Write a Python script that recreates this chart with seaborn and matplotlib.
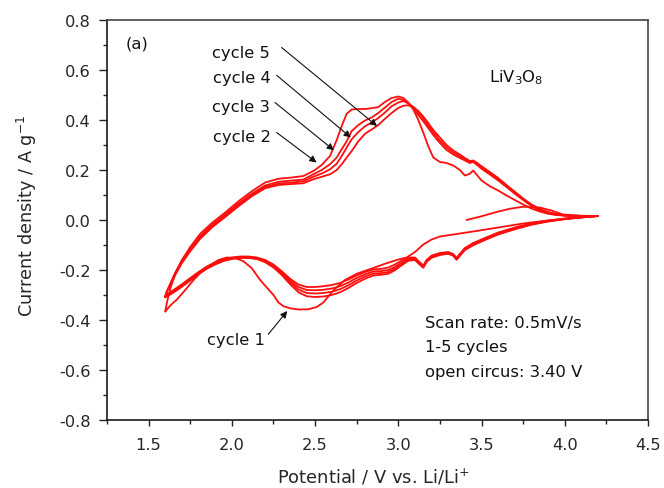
import matplotlib
matplotlib.use("Agg")
import matplotlib.pyplot as plt
import numpy as np
import pandas as pd
import seaborn as sns
from matplotlib.ticker import MultipleLocator, FuncFormatter

# ---- cyclic voltammetry data (potential in V vs Li/Li+, current density in A/g) ----
# first half-sweep: open circuit (3.40 V) up to 4.2 V
init_V = [3.41, 3.50, 3.59, 3.67, 3.75, 3.85, 3.92, 3.99, 4.10, 4.20]
init_I = [0.000, 0.015, 0.032, 0.045, 0.053, 0.050, 0.038, 0.022, 0.017, 0.016]

# cycle 1 cathodic sweep, 4.2 V -> 1.6 V
c1_V = [4.20, 4.05, 3.90, 3.75, 3.60, 3.45, 3.33, 3.25, 3.20, 3.15, 3.10, 3.05,
        3.00, 2.92, 2.85, 2.75, 2.68, 2.62, 2.58, 2.55, 2.51, 2.46, 2.40, 2.35,
        2.31, 2.28, 2.25, 2.21, 2.17, 2.12, 2.07, 2.02, 1.97, 1.92, 1.87, 1.82,
        1.77, 1.72, 1.67, 1.63, 1.60]
c1_I = [0.016, 0.008, -0.002, -0.014, -0.030, -0.046, -0.058, -0.066, -0.078,
        -0.098, -0.128, -0.150, -0.158, -0.175, -0.192, -0.215, -0.240, -0.275,
        -0.305, -0.330, -0.348, -0.357, -0.358, -0.353, -0.345, -0.330, -0.300,
        -0.270, -0.240, -0.193, -0.165, -0.152, -0.150, -0.160, -0.180, -0.205,
        -0.240, -0.280, -0.318, -0.342, -0.366]

# anodic sweeps (1.6 V -> 4.2 V), cycles 2-5
anod_V = [1.60, 1.61, 1.63, 1.66, 1.70, 1.75, 1.81, 1.88, 1.96, 2.04, 2.12, 2.20,
          2.28, 2.36, 2.43, 2.49, 2.54, 2.59, 2.63, 2.66, 2.69, 2.72, 2.76, 2.80,
          2.84, 2.88, 2.92, 2.96, 3.00, 3.03, 3.06, 3.09, 3.12, 3.15, 3.18, 3.21,
          3.25, 3.29, 3.33, 3.37, 3.40, 3.43, 3.45, 3.47, 3.50, 3.55, 3.60, 3.65,
          3.70, 3.75, 3.80, 3.85, 3.90, 3.95, 4.00, 4.10, 4.20]
an2_I = [-0.366, -0.330, -0.275, -0.215, -0.160, -0.108, -0.055, -0.012, 0.030,
         0.075, 0.115, 0.150, 0.165, 0.170, 0.176, 0.196, 0.220, 0.256, 0.320,
         0.376, 0.425, 0.442, 0.444, 0.444, 0.447, 0.452, 0.472, 0.488, 0.494,
         0.488, 0.470, 0.443, 0.400, 0.350, 0.295, 0.250, 0.232, 0.228, 0.218,
         0.200, 0.178, 0.185, 0.198, 0.182, 0.158, 0.135, 0.118, 0.098, 0.080,
         0.062, 0.046, 0.034, 0.025, 0.020, 0.017, 0.016, 0.016]
an3_I = [-0.308, -0.285, -0.255, -0.210, -0.162, -0.115, -0.065, -0.020, 0.022,
         0.066, 0.105, 0.138, 0.153, 0.158, 0.162, 0.183, 0.200, 0.223, 0.250,
         0.283, 0.315, 0.356, 0.380, 0.398, 0.410, 0.428, 0.450, 0.472, 0.485,
         0.480, 0.465, 0.445, 0.420, 0.395, 0.368, 0.340, 0.308, 0.280, 0.262,
         0.248, 0.238, 0.228, 0.232, 0.222, 0.205, 0.182, 0.158, 0.132, 0.105,
         0.080, 0.056, 0.038, 0.028, 0.021, 0.018, 0.016, 0.016]
an4_I = [-0.306, -0.285, -0.258, -0.215, -0.168, -0.120, -0.070, -0.026, 0.016,
         0.060, 0.100, 0.132, 0.146, 0.150, 0.155, 0.173, 0.186, 0.203, 0.225,
         0.256, 0.290, 0.323, 0.352, 0.375, 0.390, 0.408, 0.430, 0.455, 0.470,
         0.476, 0.468, 0.452, 0.430, 0.405, 0.378, 0.350, 0.318, 0.290, 0.270,
         0.255, 0.243, 0.232, 0.235, 0.226, 0.210, 0.188, 0.163, 0.137, 0.110,
         0.084, 0.060, 0.042, 0.030, 0.022, 0.018, 0.016, 0.016]
an5_I = [-0.305, -0.287, -0.262, -0.220, -0.172, -0.125, -0.075, -0.030, 0.012,
         0.055, 0.095, 0.127, 0.140, 0.144, 0.147, 0.163, 0.173, 0.183, 0.200,
         0.223, 0.250, 0.276, 0.315, 0.345, 0.362, 0.380, 0.405, 0.428, 0.448,
         0.457, 0.459, 0.452, 0.436, 0.414, 0.388, 0.360, 0.330, 0.300, 0.278,
         0.262, 0.248, 0.236, 0.238, 0.230, 0.215, 0.192, 0.168, 0.140, 0.113,
         0.086, 0.062, 0.044, 0.032, 0.024, 0.019, 0.016, 0.016]

# cathodic sweeps (4.2 V -> 1.6 V), cycles 2-5
cat_V = [4.20, 4.10, 4.00, 3.90, 3.80, 3.70, 3.60, 3.52, 3.45, 3.40, 3.37, 3.35,
         3.33, 3.30, 3.25, 3.20, 3.17, 3.15, 3.13, 3.10, 3.06, 3.02, 2.98, 2.94,
         2.90, 2.85, 2.80, 2.75, 2.70, 2.65, 2.60, 2.55, 2.50, 2.45, 2.40, 2.35,
         2.30, 2.25, 2.20, 2.15, 2.10, 2.05, 2.00, 1.95, 1.90, 1.85, 1.80, 1.75,
         1.70, 1.65, 1.60]
cat2_I = [0.016, 0.012, 0.006, -0.002, -0.012, -0.030, -0.050, -0.072, -0.092,
          -0.112, -0.135, -0.152, -0.136, -0.128, -0.132, -0.142, -0.160, -0.182,
          -0.170, -0.150, -0.150, -0.162, -0.178, -0.190, -0.195, -0.198, -0.208,
          -0.222, -0.238, -0.252, -0.260, -0.265, -0.268, -0.268, -0.258, -0.235,
          -0.205, -0.178, -0.160, -0.150, -0.146, -0.146, -0.150, -0.158, -0.170,
          -0.186, -0.208, -0.232, -0.257, -0.280, -0.302]
cat3_I = [0.016, 0.011, 0.005, -0.004, -0.015, -0.033, -0.054, -0.075, -0.096,
          -0.115, -0.138, -0.155, -0.139, -0.131, -0.135, -0.146, -0.163, -0.186,
          -0.174, -0.155, -0.156, -0.170, -0.188, -0.200, -0.204, -0.206, -0.217,
          -0.232, -0.250, -0.265, -0.274, -0.279, -0.281, -0.280, -0.268, -0.242,
          -0.210, -0.182, -0.163, -0.152, -0.148, -0.148, -0.152, -0.160, -0.172,
          -0.189, -0.211, -0.236, -0.261, -0.284, -0.306]
cat4_I = [0.016, 0.011, 0.004, -0.005, -0.017, -0.035, -0.056, -0.078, -0.099,
          -0.118, -0.141, -0.157, -0.141, -0.133, -0.138, -0.149, -0.166, -0.189,
          -0.177, -0.158, -0.160, -0.176, -0.195, -0.208, -0.212, -0.214, -0.226,
          -0.242, -0.261, -0.277, -0.287, -0.292, -0.294, -0.292, -0.278, -0.249,
          -0.215, -0.186, -0.166, -0.154, -0.150, -0.150, -0.154, -0.162, -0.175,
          -0.192, -0.214, -0.239, -0.264, -0.287, -0.308]
cat5_I = [0.016, 0.010, 0.003, -0.006, -0.019, -0.037, -0.058, -0.080, -0.101,
          -0.120, -0.143, -0.159, -0.143, -0.135, -0.140, -0.151, -0.168, -0.191,
          -0.179, -0.160, -0.163, -0.181, -0.201, -0.215, -0.219, -0.222, -0.235,
          -0.252, -0.272, -0.289, -0.300, -0.306, -0.308, -0.305, -0.289, -0.257,
          -0.220, -0.190, -0.169, -0.156, -0.152, -0.152, -0.156, -0.164, -0.178,
          -0.195, -0.217, -0.242, -0.267, -0.290, -0.310]

x_ticks = [1.5, 2.0, 2.5, 3.0, 3.5, 4.0, 4.5]
y_ticks = [-0.8, -0.6, -0.4, -0.2, 0.0, 0.2, 0.4, 0.6, 0.8]

# sweeps in the order they were recorded
sweeps = [
    (init_V, init_I), (c1_V, c1_I),
    (anod_V, an2_I), (cat_V, cat2_I),
    (anod_V, an3_I), (cat_V, cat3_I),
    (anod_V, an4_I), (cat_V, cat4_I),
    (anod_V, an5_I), (cat_V, cat5_I),
]
frames = []
for k, (v, i) in enumerate(sweeps):
    frames.append(pd.DataFrame({"V": v, "I": i, "sweep": k}))
cv = pd.concat(frames, ignore_index=True)

# ---- styling ----
sns.set_style("ticks")
plt.rcParams["font.family"] = ["DejaVu Sans"]
plt.rcParams["mathtext.fontset"] = "dejavusans"

fig = plt.figure(figsize=(6.64, 4.89), dpi=100)
ax = fig.add_axes([107 / 664, 1 - 421 / 489, 541 / 664, 400 / 489])

sns.lineplot(data=cv, x="V", y="I", units="sweep", estimator=None, sort=False,
             color="#ff0d0d", linewidth=1.3, solid_capstyle="round",
             solid_joinstyle="round", legend=False, ax=ax)

ax.set_xlim(1.25, 4.5)
ax.set_ylim(-0.8, 0.8)
ax.set_xticks(x_ticks)
ax.set_yticks(y_ticks)
ax.xaxis.set_minor_locator(MultipleLocator(0.25))
ax.yaxis.set_minor_locator(MultipleLocator(0.1))
fmt = FuncFormatter(lambda v, p: f"{round(v, 1) + 0.0:.1f}")
ax.xaxis.set_major_formatter(fmt)
ax.yaxis.set_major_formatter(fmt)

ax.tick_params(axis="x", which="major", direction="out", length=4.5, width=1.0,
               pad=8, labelsize=11.7, color="#222222")
ax.tick_params(axis="x", which="minor", direction="out", length=3.0, width=1.0,
               color="#222222")
ax.tick_params(axis="y", which="major", direction="out", length=5.8, width=1.0,
               pad=6, labelsize=11.7, color="#222222")
ax.tick_params(axis="y", which="minor", direction="out", length=3.0, width=1.0,
               color="#222222")
ax.tick_params(top=False, right=False, which="both")

for side in ["left", "bottom"]:
    ax.spines[side].set_color("#1a1a1a")
    ax.spines[side].set_linewidth(1.2)
for side in ["top", "right"]:
    ax.spines[side].set_visible(True)
    ax.spines[side].set_color("#444444")
    ax.spines[side].set_linewidth(1.2)

ax.set_xlabel("Potential / V vs. Li/Li$^{+}$", fontsize=12.9)
ax.set_ylabel("Current density / A g$^{-1}$", fontsize=12.7)
ax.xaxis.set_label_coords(0.492, -0.115)
ax.yaxis.set_label_coords(-0.125, 0.512)

# ---- annotations ----
txt = dict(fontsize=11.8, color="#111111")
ax.text(1.364, 0.709, "(a)", ha="left", va="center", **txt)
ax.text(3.542, 0.556, "LiV$_3$O$_8$", ha="left", va="baseline", **txt)

ax.text(1.881, 0.650, "cycle 5", ha="left", va="baseline", **txt)
ax.text(1.884, 0.550, "cycle 4", ha="left", va="baseline", **txt)
ax.text(1.881, 0.436, "cycle 3", ha="left", va="baseline", **txt)
ax.text(1.888, 0.316, "cycle 2", ha="left", va="baseline", **txt)
ax.text(1.849, -0.497, "cycle 1", ha="left", va="baseline", **txt)

ax.text(3.162, -0.430, "Scan rate: 0.5mV/s", ha="left", va="baseline", **txt)
ax.text(3.162, -0.524, "1-5 cycles", ha="left", va="baseline", **txt)
ax.text(3.162, -0.624, "open circus: 3.40 V", ha="left", va="baseline", **txt)

arrow = dict(arrowstyle="-|>", color="#111111", lw=0.8, mutation_scale=10,
             shrinkA=0, shrinkB=0)
pointers = [
    ((2.299, 0.690), (2.872, 0.376)),
    ((2.269, 0.579), (2.715, 0.330)),
    ((2.259, 0.470), (2.613, 0.279)),
    ((2.269, 0.350), (2.509, 0.230)),
    ((2.219, -0.457), (2.333, -0.364)),
]
for start, tip in pointers:
    ax.annotate("", xy=tip, xytext=start, arrowprops=arrow)

fig.savefig("out.png", dpi=100)
